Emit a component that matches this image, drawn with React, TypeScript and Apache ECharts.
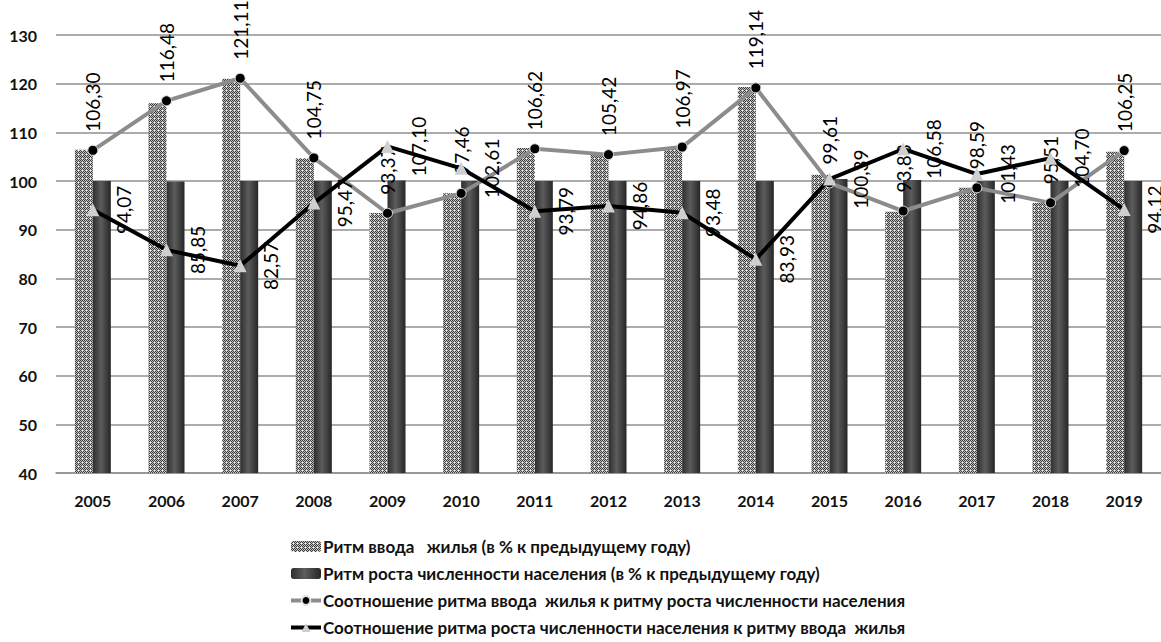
import React, { useEffect, useRef } from "react";
import * as echarts from "echarts";

// Years on the category axis
const years = [
  "2005", "2006", "2007", "2008", "2009", "2010", "2011", "2012",
  "2013", "2014", "2015", "2016", "2017", "2018", "2019",
];

// Housing commissioning rhythm, % to previous year
const housingRhythm = [
  106.4, 116.0, 121.0, 104.7, 93.4, 97.5, 106.8, 105.4,
  107.0, 119.3, 101.3, 93.7, 98.6, 95.5, 106.0,
];

// Population growth rhythm, % to previous year
const populationRhythm = [
  100.0, 99.9, 100.0, 100.0, 100.1, 100.0, 100.0, 100.0,
  100.0, 100.0, 100.4, 100.2, 100.0, 100.0, 100.0,
];

// Housing rhythm relative to population rhythm
const housingToPopulation = [
  106.3, 116.48, 121.11, 104.75, 93.37, 97.46, 106.62, 105.42,
  106.97, 119.14, 99.61, 93.83, 98.59, 95.51, 106.25,
];

// Population rhythm relative to housing rhythm
const populationToHousing = [
  94.07, 85.85, 82.57, 95.47, 107.1, 102.61, 93.79, 94.86,
  93.48, 83.93, 100.39, 106.58, 101.43, 104.7, 94.12,
];

// Value axis range
const yMin = 40;
const yMax = 130;
const yStep = 10;

const seriesNames = [
  "Ритм ввода   жилья (в % к предыдущему году)",
  "Ритм роста численности населения (в % к предыдущему году)",
  "Соотношение ритма ввода  жилья к ритму роста численности населения",
  "Соотношение ритма роста численности населения к ритму ввода  жилья",
];

const FONT = "Lato, 'Open Sans', 'Liberation Sans', sans-serif";

const fmt = (v: number) => v.toFixed(2).replace(".", ",");

// Small dotted tile used as the fill of the housing bars
function makeDotPattern(): HTMLCanvasElement {
  const c = document.createElement("canvas");
  c.width = 4;
  c.height = 4;
  const ctx = c.getContext("2d")!;
  for (let y = 0; y < 4; y++) {
    for (let x = 0; x < 4; x++) {
      let col = (x + y) % 2 === 0 ? "#3a3a3a" : "#c4c4c4";
      if (x === 2 && y === 2) col = "#ffffff";
      ctx.fillStyle = col;
      ctx.fillRect(x, y, 1, 1);
    }
  }
  return c;
}

export default function App() {
  const ref = useRef<HTMLDivElement>(null);

  useEffect(() => {
    document.body.style.margin = "0";
    if (!ref.current) return;
    const chart = echarts.init(ref.current, undefined, { renderer: "svg" });

    const dots = makeDotPattern();
    const darkBar = new echarts.graphic.LinearGradient(0, 0, 1, 0, [
      { offset: 0, color: "#2e2e2e" },
      { offset: 0.45, color: "#5c5c5c" },
      { offset: 1, color: "#262626" },
    ]);

    chart.setOption({
      animation: false,
      backgroundColor: "#ffffff",
      textStyle: { fontFamily: FONT },
      grid: { left: 56, right: 0, top: 35, bottom: 169, containLabel: false },
      legend: {
        orient: "vertical",
        left: 289,
        top: 538,
        padding: 0,
        itemWidth: 30,
        itemHeight: 11,
        itemGap: 10,
        lineStyle: { width: 4 },
        textStyle: {
          fontFamily: FONT,
          fontSize: 17,
          fontWeight: "bold",
          color: "#111",
          lineHeight: 17,
          padding: [0, 0, 0, -3],
        },
        data: seriesNames,
      },
      xAxis: {
        type: "category",
        data: years,
        axisLine: { show: true, lineStyle: { color: "#909090", width: 1.5 } },
        axisTick: { show: false },
        axisLabel: {
          fontFamily: FONT,
          fontSize: 16,
          fontWeight: "bold",
          color: "#111",
          margin: 19,
        },
      },
      yAxis: {
        type: "value",
        min: yMin,
        max: yMax,
        interval: yStep,
        axisLine: { show: false },
        axisTick: { show: false },
        splitLine: { lineStyle: { color: "#909090", width: 1.5 } },
        axisLabel: {
          fontFamily: FONT,
          fontSize: 16,
          fontWeight: "bold",
          color: "#111",
          margin: 19,
        },
      },
      series: [
        {
          name: seriesNames[0],
          type: "bar",
          data: housingRhythm,
          barWidth: 18,
          barGap: "0%",
          itemStyle: { color: { image: dots, repeat: "repeat" } },
        },
        {
          name: seriesNames[1],
          type: "bar",
          data: populationRhythm,
          barWidth: 18,
          barGap: "0%",
          itemStyle: { color: darkBar },
        },
        {
          name: seriesNames[2],
          type: "line",
          data: housingToPopulation,
          symbol: "circle",
          symbolSize: 10,
          lineStyle: { color: "#8c8c8c", width: 4 },
          itemStyle: { color: "#000", borderColor: "#e0e0e0", borderWidth: 1 },
          label: {
            show: true,
            position: "top",
            distance: 13,
            rotate: 90,
            align: "left",
            verticalAlign: "middle",
            fontFamily: FONT,
            fontSize: 19,
            color: "#000",
            formatter: (p: any) => fmt(p.value),
          },
          z: 3,
        },
        {
          name: seriesNames[3],
          type: "line",
          data: populationToHousing,
          symbol: "triangle",
          symbolSize: 13,
          lineStyle: { color: "#000", width: 4 },
          itemStyle: { color: "#cfcfcf" },
          label: {
            show: true,
            position: "right",
            distance: 24,
            rotate: 90,
            align: "center",
            verticalAlign: "middle",
            fontFamily: FONT,
            fontSize: 19,
            color: "#000",
            formatter: (p: any) => fmt(p.value),
          },
          z: 4,
        },
      ],
    });

    return () => chart.dispose();
  }, []);

  return <div ref={ref} style={{ width: 1161, height: 642 }} />;
}
